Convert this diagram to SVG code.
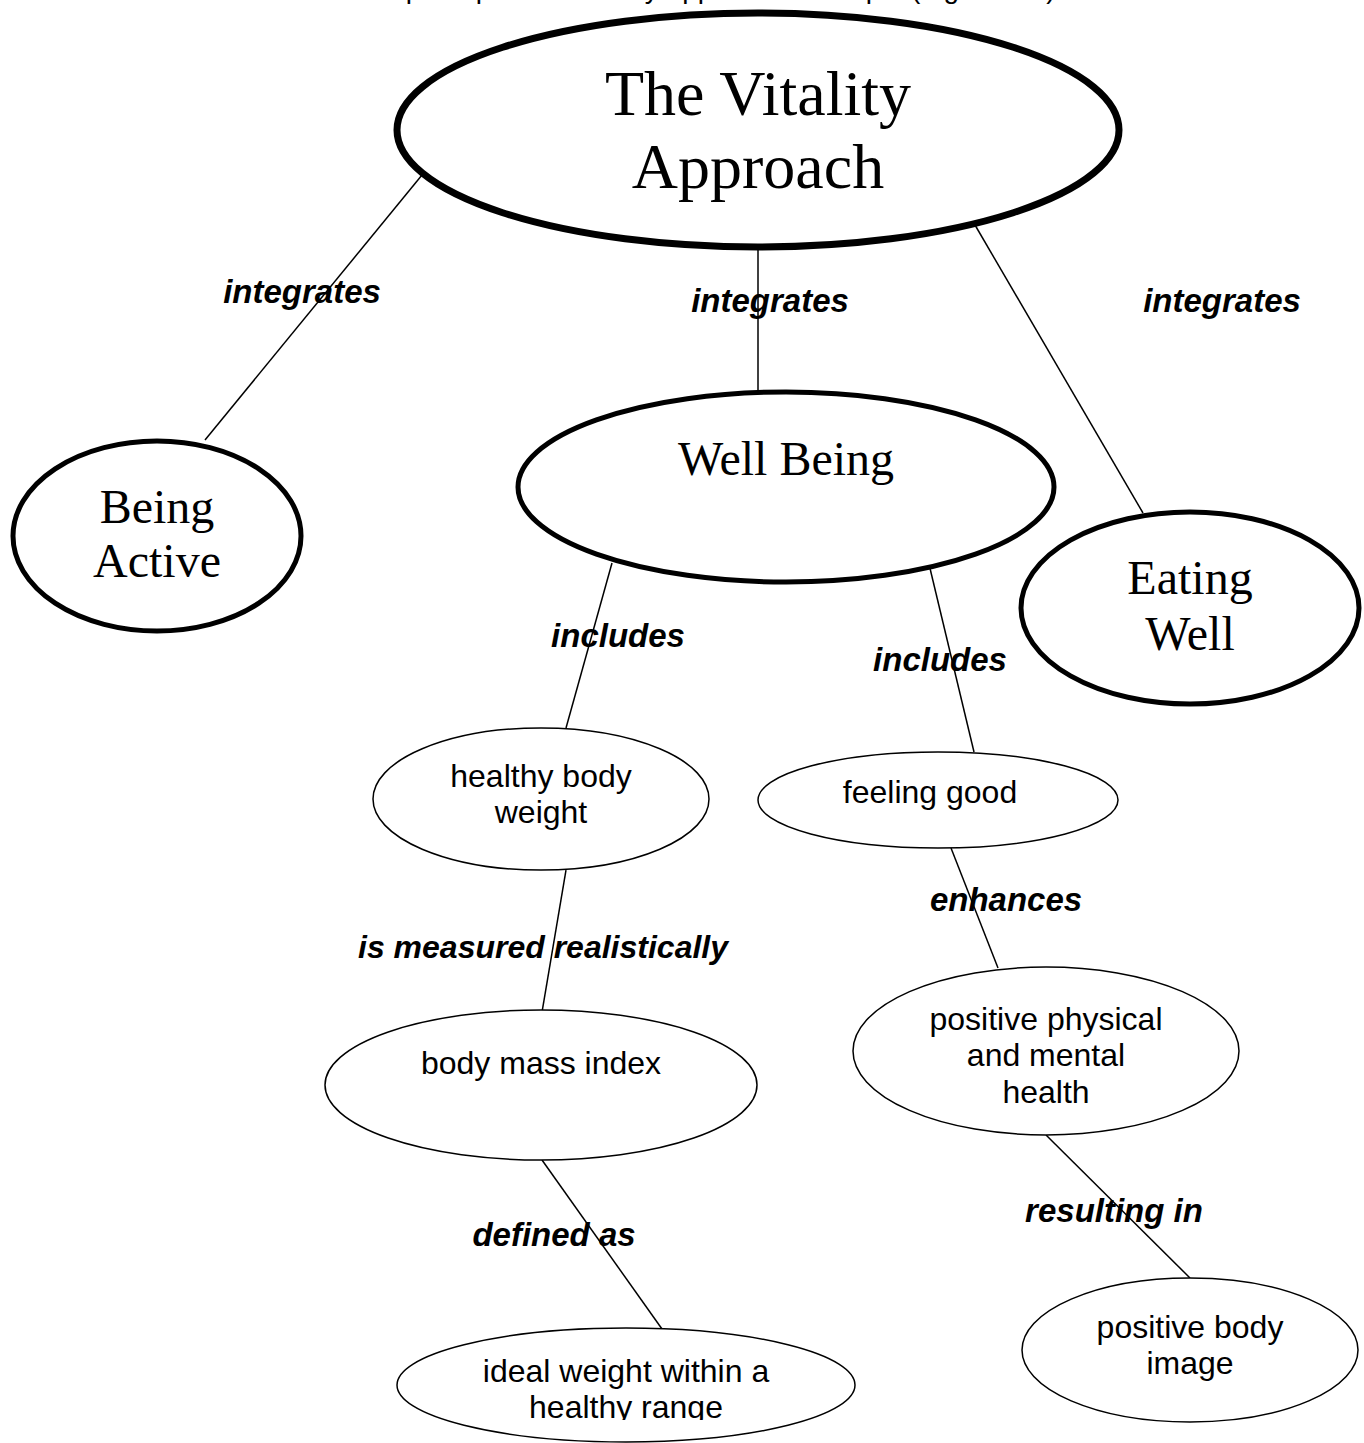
<svg xmlns="http://www.w3.org/2000/svg" width="1364" height="1443" viewBox="0 0 1364 1443">
<style>
.bg{fill:#ffffff}
.thick{fill:#ffffff;stroke:#000000;stroke-width:5}
.heavy{fill:#ffffff;stroke:#000000;stroke-width:7}
.thin{fill:#ffffff;stroke:#000000;stroke-width:1.5}
.conn line{stroke:#000000;stroke-width:1.5}
.serif{font-family:"Liberation Serif","Times New Roman",serif;fill:#000;text-anchor:middle}
.sans{font-family:"Liberation Sans",Arial,sans-serif;font-size:32px;fill:#000;text-anchor:middle}
.lbl{font-family:"Liberation Sans",Arial,sans-serif;font-size:33px;font-weight:bold;font-style:italic;fill:#000;text-anchor:middle}
</style>
<defs>
<clipPath id="clipIdeal"><rect x="380" y="1300" width="500" height="120"/></clipPath>
</defs>
<rect class="bg" x="0" y="0" width="1364" height="1443"/>
<text id="title" x="306" y="-2" font-family="Liberation Sans, Arial, sans-serif" font-size="28">A concept map of the Vitality approach concepts (Figure 2.1)</text>
<g id="connectors" class="conn">
<line x1="422" y1="175" x2="205" y2="440"/>
<line x1="758" y1="248" x2="758" y2="390"/>
<line x1="975" y1="225" x2="1143" y2="513"/>
<line x1="612" y1="563" x2="566" y2="728"/>
<line x1="928" y1="560" x2="974" y2="752"/>
<line x1="566" y1="870" x2="542" y2="1012"/>
<line x1="951" y1="848" x2="998" y2="968"/>
<line x1="542" y1="1160" x2="662" y2="1329"/>
<line x1="1046" y1="1135" x2="1190" y2="1278"/>
</g>
<g id="labels">
<text class="lbl" x="302" y="303">integrates</text>
<text class="lbl" x="770" y="312">integrates</text>
<text class="lbl" x="1222" y="312">integrates</text>
<text class="lbl" x="618" y="647">includes</text>
<text class="lbl" x="940" y="671">includes</text>
<text class="lbl" x="543" y="958" style="font-size:32px">is measured realistically</text>
<text class="lbl" x="1006" y="911">enhances</text>
<text class="lbl" x="1114" y="1222">resulting in</text>
<text class="lbl" x="554" y="1246">defined as</text>
</g>
<g id="vitality">
<ellipse class="heavy" cx="758" cy="130" rx="361" ry="117"/>
<text class="serif" font-size="64" x="758" y="115">The Vitality</text>
<text class="serif" font-size="64" x="758" y="188">Approach</text>
</g>
<g id="being-active">
<ellipse class="thick" cx="157" cy="536" rx="144" ry="95"/>
<text class="serif" font-size="48" x="157" y="523">Being</text>
<text class="serif" font-size="48" x="157" y="577">Active</text>
</g>
<g id="well-being">
<ellipse class="thick" cx="786" cy="487" rx="268" ry="95"/>
<text class="serif" font-size="48" x="786" y="475">Well Being</text>
</g>
<g id="eating-well">
<ellipse class="thick" cx="1190" cy="608" rx="169" ry="96"/>
<text class="serif" font-size="48" x="1190" y="594">Eating</text>
<text class="serif" font-size="48" x="1190" y="650">Well</text>
</g>
<g id="healthy-body-weight">
<ellipse class="thin" cx="541" cy="799" rx="168" ry="71"/>
<text class="sans" x="541" y="787">healthy body</text>
<text class="sans" x="541" y="823">weight</text>
</g>
<g id="feeling-good">
<ellipse class="thin" cx="938" cy="800" rx="180" ry="48"/>
<text class="sans" x="930" y="803">feeling good</text>
</g>
<g id="body-mass-index">
<ellipse class="thin" cx="541" cy="1085" rx="216" ry="75"/>
<text class="sans" x="541" y="1074">body mass index</text>
</g>
<g id="positive-health">
<ellipse class="thin" cx="1046" cy="1051" rx="193" ry="84"/>
<text class="sans" x="1046" y="1030">positive physical</text>
<text class="sans" x="1046" y="1066">and mental</text>
<text class="sans" x="1046" y="1103">health</text>
</g>
<g id="ideal-weight">
<ellipse class="thin" cx="626" cy="1385" rx="229" ry="57"/>
<g clip-path="url(#clipIdeal)">
<text class="sans" x="626" y="1382">ideal weight within a</text>
<text class="sans" x="626" y="1418">healthy range</text>
</g>
</g>
<g id="positive-body-image">
<ellipse class="thin" cx="1190" cy="1350" rx="168" ry="72"/>
<text class="sans" x="1190" y="1338">positive body</text>
<text class="sans" x="1190" y="1374">image</text>
</g>
</svg>
